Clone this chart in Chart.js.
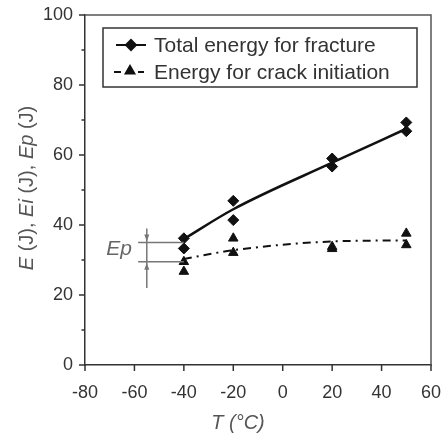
<!DOCTYPE html>
<html>
<head>
<meta charset="utf-8">
<script src="https://cdn.jsdelivr.net/npm/chart.js@4.4.0/dist/chart.umd.min.js"></script>
<style>
  body { margin: 0; background: #fff; }
  #wrap { width: 444px; height: 440px; }
</style>
</head>
<body>
<div id="wrap"><canvas id="energyChart" width="444" height="440"></canvas></div>
<script>
// test temperatures (°C)
const temps = [-40, -20, 20, 50];
// two specimens per temperature
const totalEnergyA = [36.2, 46.9, 59.0, 69.3];
const totalEnergyB = [33.3, 41.4, 56.7, 66.8];
const initEnergyA = [29.5, 36.2, 33.8, 37.6];
const initEnergyB = [26.7, 32.1, 33.2, 34.3];
// trend curves
const totalTrend = [36.0, 44.5, 57.8, 67.5];
const initTrend = [30.3, 32.8, 35.3, 35.6];
// Ep dimension at -40 °C
const epLevels = [35.0, 29.5];
const epLineX = [-58.5, -40];
const epArrowX = -55;
const epArrowY = [39, 22];

const legendLabels = ['Total energy for fracture', 'Energy for crack initiation'];

const INK = '#111';
const TEXT = '#333';
const FONT = '"Liberation Sans", Arial, sans-serif';

const toPts = (xs, ys) => xs.map((x, i) => ({ x: x, y: ys[i] }));

function markers(data, style) {
    return {
        data: data,
        showLine: false,
        pointStyle: style,
        pointRadius: 5.5,
        pointBackgroundColor: INK,
        pointBorderColor: INK,
        pointBorderWidth: 1
    };
}

function epLine(data) {
    return {
        data: data,
        showLine: true,
        borderColor: '#777',
        borderWidth: 1.5,
        pointRadius: 0
    };
}

// draws text made of normal / italic runs
function richText(ctx, parts, size, x, y) {
    let width = 0;
    parts.forEach(p => {
        ctx.font = (p[1] ? 'italic ' : '') + size + 'px ' + FONT;
        width += ctx.measureText(p[0]).width;
    });
    let cx = x - width / 2;
    parts.forEach(p => {
        ctx.font = (p[1] ? 'italic ' : '') + size + 'px ' + FONT;
        ctx.fillText(p[0], cx, y);
        cx += ctx.measureText(p[0]).width;
    });
}

const decorations = {
    id: 'decorations',
    afterDraw(chart) {
        const { ctx, chartArea: a, scales: { x, y } } = chart;
        ctx.save();

        // top and right frame
        ctx.strokeStyle = '#555';
        ctx.lineWidth = 1.5;
        ctx.beginPath();
        ctx.moveTo(a.left, a.top);
        ctx.lineTo(a.right, a.top);
        ctx.lineTo(a.right, a.bottom);
        ctx.stroke();

        // tick marks, short ones between labelled values
        ctx.strokeStyle = '#333';
        ctx.beginPath();
        y.ticks.forEach(t => {
            const py = y.getPixelForValue(t.value);
            const len = t.value % 20 === 0 ? 6 : 3.5;
            ctx.moveTo(a.left - len, py);
            ctx.lineTo(a.left, py);
        });
        x.ticks.forEach(t => {
            const px = x.getPixelForValue(t.value);
            ctx.moveTo(px, a.bottom);
            ctx.lineTo(px, a.bottom + 6);
        });
        ctx.stroke();

        // Ep arrows
        const ax = x.getPixelForValue(epArrowX);
        ctx.fillStyle = '#777';
        const upper = y.getPixelForValue(epLevels[0]);
        const lower = y.getPixelForValue(epLevels[1]);
        ctx.beginPath();
        ctx.moveTo(ax, upper - 1);
        ctx.lineTo(ax - 2.5, upper - 8);
        ctx.lineTo(ax + 2.5, upper - 8);
        ctx.closePath();
        ctx.moveTo(ax, lower + 1);
        ctx.lineTo(ax - 2.5, lower + 8);
        ctx.lineTo(ax + 2.5, lower + 8);
        ctx.closePath();
        ctx.fill();

        ctx.fillStyle = '#666';
        ctx.textBaseline = 'middle';
        richText(ctx, [['Ep', true]], 21, x.getPixelForValue(-66.2), y.getPixelForValue(33.1));

        // axis titles
        ctx.fillStyle = '#555';
        richText(ctx, [['T (°C)', true]], 20, 238, 423);
        ctx.save();
        ctx.translate(27, 188);
        ctx.rotate(-Math.PI / 2);
        richText(ctx, [['E', true], [' (J), ', false], ['Ei', true], [' (J), ', false], ['Ep', true], [' (J)', false]], 20, 0, 0);
        ctx.restore();

        // legend box
        ctx.strokeStyle = '#333';
        ctx.lineWidth = 1.5;
        ctx.strokeRect(103, 28, 314, 59);
        const rows = [45, 72];
        ctx.strokeStyle = INK;
        ctx.fillStyle = INK;
        ctx.lineWidth = 2;
        ctx.beginPath();
        ctx.moveTo(116, rows[0]);
        ctx.lineTo(146, rows[0]);
        ctx.stroke();
        ctx.beginPath();
        ctx.moveTo(114, rows[1]);
        ctx.lineTo(121, rows[1]);
        ctx.moveTo(138, rows[1]);
        ctx.lineTo(144, rows[1]);
        ctx.stroke();
        const pt = { radius: 5, rotation: 0, borderWidth: 1 };
        Chart.helpers.drawPoint(ctx, Object.assign({ pointStyle: 'rectRot' }, pt), 131, rows[0]);
        ctx.fill();
        Chart.helpers.drawPoint(ctx, Object.assign({ pointStyle: 'triangle' }, pt), 130, rows[1] - 1);
        ctx.fill();
        ctx.fillStyle = TEXT;
        ctx.font = '21px ' + FONT;
        ctx.textAlign = 'left';
        legendLabels.forEach((l, i) => ctx.fillText(l, 154, rows[i] + 1));

        ctx.restore();
    }
};

new Chart(document.getElementById('energyChart'), {
    type: 'scatter',
    data: {
        datasets: [
            epLine(toPts(epLineX, [epLevels[0], epLevels[0]])),
            epLine(toPts(epLineX, [epLevels[1], epLevels[1]])),
            epLine(toPts([epArrowX, epArrowX], epArrowY)),
            {
                data: toPts(temps, totalTrend),
                showLine: true,
                borderColor: INK,
                borderWidth: 2.5,
                cubicInterpolationMode: 'monotone',
                pointRadius: 0
            },
            {
                data: toPts(temps, initTrend),
                showLine: true,
                borderColor: INK,
                borderWidth: 2,
                borderDash: [8, 5, 2, 5],
                cubicInterpolationMode: 'monotone',
                pointRadius: 0
            },
            markers(toPts(temps, totalEnergyA), 'rectRot'),
            markers(toPts(temps, totalEnergyB), 'rectRot'),
            markers(toPts(temps, initEnergyA), 'triangle'),
            markers(toPts(temps, initEnergyB), 'triangle')
        ]
    },
    options: {
        responsive: false,
        animation: false,
        layout: { padding: { top: 15, right: 13 } },
        plugins: {
            legend: { display: false },
            tooltip: { enabled: false }
        },
        scales: {
            x: {
                type: 'linear',
                min: -80,
                max: 60,
                ticks: { stepSize: 20, color: TEXT, font: { family: FONT, size: 18 }, padding: 17 },
                grid: { display: false, drawTicks: false },
                border: { color: '#333', width: 1.5 },
                afterFit: s => {
                    s.height = 75;
                    s.paddingLeft = 0;
                    s.paddingRight = 0;
                }
            },
            y: {
                min: 0,
                max: 100,
                ticks: {
                    stepSize: 10,
                    color: TEXT,
                    font: { family: FONT, size: 18 },
                    padding: 12,
                    callback: v => (v % 20 === 0 ? v : '')
                },
                grid: { display: false, drawTicks: false },
                border: { color: '#333', width: 1.5 },
                afterFit: s => {
                    s.width = 85;
                    s.paddingTop = 0;
                    s.paddingBottom = 0;
                }
            }
        }
    },
    plugins: [decorations]
});
</script>
</body>
</html>
